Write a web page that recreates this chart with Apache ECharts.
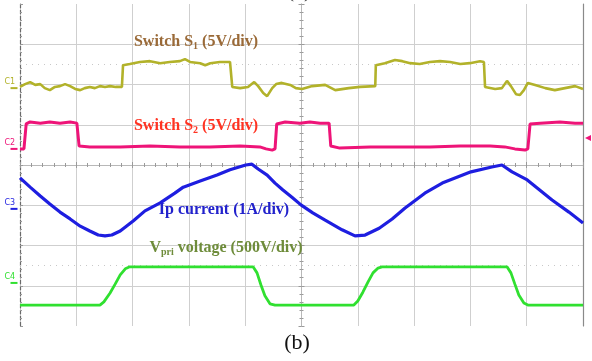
<!DOCTYPE html>
<html>
<head>
<meta charset="utf-8">
<script src="https://cdn.jsdelivr.net/npm/echarts@6/dist/echarts.min.js"></script>
<style>
  html, body { margin: 0; padding: 0; background: #fff; }
  #chart { width: 592px; height: 361px; }
</style>
</head>
<body>
<div id="chart"></div>
<script>
// screen divisions: time 0..10 (left to right), level 0..8 (bottom to top)
const s1Trace = [
  [0, 5.94], [0.09, 6.01], [0.18, 6.06], [0.27, 5.99], [0.36, 6.01], [0.44, 5.91], [0.53, 5.86],
  [0.62, 5.94], [0.71, 5.96], [0.80, 6.01], [0.89, 5.96], [0.98, 5.89], [1.07, 5.86], [1.15, 5.91],
  [1.24, 5.94], [1.33, 5.91], [1.42, 5.96], [1.51, 5.94], [1.60, 5.96], [1.70, 5.94], [1.81, 5.94],
  [1.83, 6.48], [1.95, 6.51], [2.13, 6.56], [2.31, 6.58], [2.49, 6.53], [2.66, 6.56], [2.84, 6.58],
  [2.93, 6.63], [3.02, 6.56], [3.20, 6.53], [3.29, 6.48], [3.38, 6.53], [3.55, 6.56], [3.73, 6.56],
  [3.77, 5.94], [3.91, 5.91], [4.05, 5.94], [4.16, 6.06], [4.23, 5.96], [4.32, 5.79], [4.39, 5.71],
  [4.48, 5.91], [4.55, 6.01], [4.65, 6.04], [4.80, 5.99], [4.90, 5.91], [5.01, 5.89], [5.19, 5.96],
  [5.42, 5.99], [5.60, 5.86], [5.84, 5.91], [6.04, 5.94], [6.31, 5.96],
  [6.32, 6.48], [6.48, 6.53], [6.66, 6.61], [6.79, 6.58], [6.93, 6.53], [7.10, 6.51], [7.28, 6.56],
  [7.46, 6.58], [7.64, 6.56], [7.82, 6.51], [7.99, 6.53], [8.17, 6.58], [8.24, 6.56],
  [8.26, 5.94], [8.44, 5.89], [8.56, 5.91], [8.65, 6.09], [8.72, 5.96], [8.81, 5.76], [8.88, 5.74],
  [8.95, 5.86], [9.02, 6.04], [9.15, 5.99], [9.33, 5.91], [9.50, 5.86], [9.68, 5.91], [9.86, 5.96],
  [10, 5.89]
];

const s2Trace = [
  [0, 4.40], [0.07, 4.40], [0.11, 5.02], [0.18, 5.07], [0.36, 5.04], [0.53, 5.07], [0.71, 5.04],
  [0.89, 5.07], [1.01, 5.04], [1.05, 4.47], [1.24, 4.45], [1.78, 4.45], [2.31, 4.47], [2.84, 4.45],
  [3.37, 4.45], [3.91, 4.47], [4.26, 4.45], [4.37, 4.40], [4.48, 4.37], [4.53, 4.40],
  [4.56, 5.02], [4.71, 5.07], [4.97, 5.04], [5.15, 5.07], [5.33, 5.04], [5.49, 5.04],
  [5.52, 4.47], [5.68, 4.42], [6.22, 4.45], [6.75, 4.45], [7.28, 4.45], [7.82, 4.47], [8.35, 4.47],
  [8.61, 4.45], [8.79, 4.40], [8.97, 4.37], [9.02, 4.40],
  [9.06, 5.02], [9.24, 5.04], [9.59, 5.07], [9.86, 5.04], [10, 5.04]
];

const ipTrace = [
  [0, 3.68], [0.18, 3.45], [0.36, 3.23], [0.53, 3.03], [0.71, 2.83], [0.89, 2.66], [1.07, 2.48],
  [1.24, 2.36], [1.39, 2.26], [1.51, 2.24], [1.63, 2.26], [1.78, 2.36], [2.01, 2.61], [2.22, 2.86],
  [2.49, 3.06], [2.75, 3.30], [2.90, 3.45], [3.20, 3.60], [3.50, 3.75], [3.73, 3.88], [4.01, 4.00],
  [4.12, 4.02], [4.23, 3.90], [4.39, 3.75], [4.53, 3.55], [4.67, 3.38], [4.83, 3.20], [4.99, 3.01],
  [5.20, 2.81], [5.42, 2.63], [5.72, 2.39], [5.95, 2.24], [6.13, 2.26], [6.38, 2.43], [6.61, 2.66],
  [6.84, 2.93], [7.19, 3.30], [7.50, 3.55], [8.01, 3.83], [8.38, 3.95], [8.56, 4.00], [8.74, 3.83],
  [9.01, 3.63], [9.45, 3.13], [9.75, 2.83], [10, 2.56]
];

const vpriTrace = [
  [0, 0.52], [0.71, 0.52], [1.42, 0.52], [1.49, 0.60], [1.60, 0.82], [1.69, 1.04], [1.78, 1.27],
  [1.87, 1.42], [1.95, 1.47], [3.02, 1.47], [4.14, 1.47], [4.21, 1.32], [4.28, 1.02], [4.35, 0.75],
  [4.44, 0.55], [4.53, 0.52], [5.93, 0.52], [6.00, 0.62], [6.09, 0.84], [6.18, 1.09], [6.27, 1.32],
  [6.36, 1.44], [6.43, 1.47], [8.65, 1.47], [8.72, 1.32], [8.79, 1.04], [8.86, 0.77], [8.95, 0.57],
  [9.02, 0.52], [10, 0.52]
];

const channelNames = ["C1", "C2", "C3", "C4"];
const channelGround = [5.91, 4.40, 2.91, 1.07];
const channelColors = ["#b2b22a", "#ee1478", "#1e1ee0", "#30e030"];
const traceWidths = [2.6, 3, 3.2, 2.8];
const triggerLevel = 4.67;
const refLevels = [6.5, 1.5];

const labelTexts = [
  "{b|Switch S}{s|1}{b| (5V/div)}",
  "{b|Switch S}{s|2}{b| (5V/div)}",
  "{b|Ip current (1A/div)}",
  "{b|V}{s|pri}{b| voltage (500V/div)}"
];
const labelColors = ["#9a6a38", "#ff3322", "#2222cc", "#6e8c3a"];

const centre = (pts) => pts.map(([t, v]) => [t - 5, v - 4]);

const chart = echarts.init(document.getElementById("chart"));
const traces = [s1Trace, s2Trace, ipTrace, vpriTrace];

const series = traces.map((tr, i) => ({
  type: "line",
  data: centre(tr),
  showSymbol: false,
  silent: true,
  lineStyle: { color: channelColors[i], width: traceWidths[i] },
  z: 5,
  markPoint: {
    silent: true,
    data: [{
      coord: [-5, channelGround[i] - 4],
      symbol: "rect",
      symbolSize: [7, 2],
      symbolOffset: [-6, 0],
      itemStyle: { color: channelColors[i] },
      label: {
        show: true, formatter: channelNames[i], color: channelColors[i],
        fontSize: 8, fontFamily: "DejaVu Sans", position: [-6, -9]
      }
    }].concat(i === 1 ? [{
      coord: [5, triggerLevel - 4],
      symbol: "triangle",
      symbolRotate: 90,
      symbolSize: [6, 6],
      symbolOffset: [5, 0],
      itemStyle: { color: channelColors[1] },
      label: { show: false }
    }] : [])
  },
  markLine: i === 0 ? {
    silent: true, symbol: "none", label: { show: false },
    lineStyle: { color: "#c8c8c8", type: [1, 5], width: 1 },
    data: refLevels.map(v => ({ yAxis: v - 4 }))
  } : undefined
}));

const gray = "#cfcfcf";
const tickStyle = { color: "#9a9a9a", width: 1 };

chart.setOption({
  animation: false,
  grid: { left: 20, right: 9, top: 4, bottom: 35 },
  xAxis: [
    {
      type: "value", min: -5, max: 5, interval: 1, position: "bottom",
      axisLine: { onZero: true, lineStyle: { color: "#b8b8b8" } },
      axisTick: { show: true, length: 3, lineStyle: tickStyle },
      minorTick: { show: true, splitNumber: 5, length: 2, lineStyle: tickStyle },
      axisLabel: { show: false },
      splitLine: { show: true, showMinLine: false, showMaxLine: false, lineStyle: { color: gray } }
    },
    {
      type: "value", min: -5, max: 5, interval: 1, position: "top",
      axisLine: { onZero: true, lineStyle: { color: "#b8b8b8" } },
      axisTick: { show: true, length: 3, lineStyle: tickStyle },
      minorTick: { show: true, splitNumber: 5, length: 2, lineStyle: tickStyle },
      axisLabel: { show: false }, splitLine: { show: false }
    }
  ],
  yAxis: [
    {
      type: "value", min: -4, max: 4, interval: 1, position: "left",
      axisLine: { onZero: true, lineStyle: { color: "#b8b8b8" } },
      axisTick: { show: true, length: 3, lineStyle: tickStyle },
      minorTick: { show: true, splitNumber: 5, length: 2, lineStyle: tickStyle },
      axisLabel: { show: false },
      splitLine: { show: true, showMinLine: false, showMaxLine: false, lineStyle: { color: gray } }
    },
    {
      type: "value", min: -4, max: 4, interval: 1, position: "right",
      axisLine: { onZero: true, lineStyle: { color: "#b8b8b8" } },
      axisTick: { show: true, length: 3, lineStyle: tickStyle },
      minorTick: { show: true, splitNumber: 5, length: 2, lineStyle: tickStyle },
      axisLabel: { show: false }, splitLine: { show: false }
    },
    {
      type: "value", min: -4, max: 4, interval: 1, position: "left",
      axisLine: { onZero: false, lineStyle: { color: "#6a6a6a", type: [4, 2], width: 1.2 } },
      axisTick: { show: true, inside: true, length: 3, lineStyle: tickStyle },
      minorTick: { show: true, splitNumber: 5, length: 2, lineStyle: tickStyle },
      axisLabel: { show: false }, splitLine: { show: false }
    },
    {
      type: "value", min: -4, max: 4, interval: 1, position: "right",
      axisLine: { onZero: false, lineStyle: { color: "#8a8a8a", width: 1.2 } },
      axisTick: { show: false }, axisLabel: { show: false }, splitLine: { show: false }
    }
  ],
  series,
  graphic: [
    { x: 196, y: 42, idx: 0 }, { x: 196, y: 126, idx: 1 },
    { x: 224, y: 210, idx: 2 }, { x: 226, y: 248, idx: 3 }
  ].map(p => ({
    type: "text", x: p.x, y: p.y, z: 10, silent: true,
    style: {
      text: labelTexts[p.idx], align: "center", verticalAlign: "middle",
      rich: {
        b: { fontFamily: "Liberation Serif", fontWeight: "bold", fontSize: 16, fill: labelColors[p.idx] },
        s: { fontFamily: "Liberation Serif", fontWeight: "bold", fontSize: 10, fill: labelColors[p.idx], padding: [8, 0, 0, 0] }
      }
    }
  })).concat([
    { type: "text", x: 297, y: 343, silent: true,
      style: { text: "(b)", align: "center", verticalAlign: "middle", fontFamily: "Liberation Serif", fontSize: 22, fill: "#111" } },
    { type: "text", x: 299, y: -9, silent: true,
      style: { text: "(a)", align: "center", verticalAlign: "middle", fontFamily: "Liberation Serif", fontSize: 22, fill: "#444" } }
  ])
});
</script>
</body>
</html>
